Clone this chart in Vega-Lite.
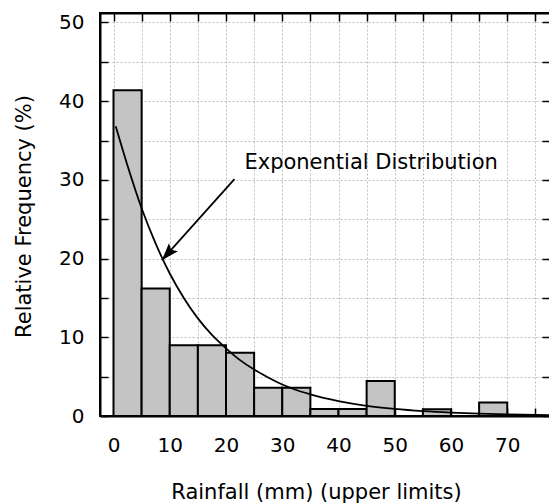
{
  "$schema": "https://vega.github.io/schema/vega-lite/v6.json",
  "width": 450,
  "height": 403,
  "autosize": "none",
  "padding": {"left": 100, "top": 13, "right": 0, "bottom": 87},
  "background": "white",
  "config": {
    "view": {"stroke": "black", "strokeWidth": 2},
    "font": "DejaVu Sans",
    "axis": {
      "labelFont": "DejaVu Sans",
      "titleFont": "DejaVu Sans",
      "labelFontSize": 20,
      "titleFontSize": 21,
      "titleFontWeight": "normal",
      "labelColor": "black",
      "titleColor": "black",
      "domainColor": "black",
      "domainWidth": 2,
      "tickColor": "black",
      "tickWidth": 1.5,
      "tickSize": -8,
      "gridColor": "#bdbdbd",
      "gridDash": [2, 2],
      "gridWidth": 1
    }
  },
  "datasets": {
    "bars": [
      {"lo": 0, "hi": 5, "freq": 41.4},
      {"lo": 5, "hi": 10, "freq": 16.2},
      {"lo": 10, "hi": 15, "freq": 9.0},
      {"lo": 15, "hi": 20, "freq": 9.0},
      {"lo": 20, "hi": 25, "freq": 8.05},
      {"lo": 25, "hi": 30, "freq": 3.6},
      {"lo": 30, "hi": 35, "freq": 3.6},
      {"lo": 35, "hi": 40, "freq": 0.9},
      {"lo": 40, "hi": 45, "freq": 0.9},
      {"lo": 45, "hi": 50, "freq": 4.45},
      {"lo": 55, "hi": 60, "freq": 0.85},
      {"lo": 65, "hi": 70, "freq": 1.7}
    ],
    "curve": [
      {"x": 0.4, "y": 36.8},
      {"x": 2.5, "y": 31.8},
      {"x": 5, "y": 26.4},
      {"x": 7.5, "y": 21.9},
      {"x": 10, "y": 18.1},
      {"x": 12.5, "y": 15.0},
      {"x": 15, "y": 12.4},
      {"x": 17.5, "y": 10.3},
      {"x": 20, "y": 8.6},
      {"x": 22.5, "y": 7.1},
      {"x": 25, "y": 5.9},
      {"x": 27.5, "y": 4.9},
      {"x": 30, "y": 4.0},
      {"x": 32.5, "y": 3.3},
      {"x": 35, "y": 2.75},
      {"x": 40, "y": 1.9},
      {"x": 45, "y": 1.3},
      {"x": 50, "y": 0.9},
      {"x": 55, "y": 0.62},
      {"x": 60, "y": 0.43},
      {"x": 65, "y": 0.3},
      {"x": 70, "y": 0.2},
      {"x": 77.6, "y": 0.12}
    ],
    "arrow": [
      {"x": 21.5, "y": 30.1, "x2": 8.6, "y2": 19.8}
    ],
    "label": [
      {"x": 45.8, "y": 31.4, "text": "Exponential Distribution"}
    ]
  },
  "resolve": {"axis": {"x": "independent", "y": "independent"}},
  "layer": [
    {
      "data": {"name": "bars"},
      "mark": {"type": "rect", "fill": "#c4c4c4", "stroke": "black", "strokeWidth": 2},
      "encoding": {
        "x": {
          "field": "lo", "type": "quantitative",
          "scale": {"domain": [-2.4, 77.6], "nice": false, "zero": false},
          "axis": {
            "orient": "bottom",
            "values": [0, 5, 10, 15, 20, 25, 30, 35, 40, 45, 50, 55, 60, 65, 70, 75],
            "labelExpr": "datum.value % 10 === 0 && datum.value <= 70 ? datum.label : ''",
            "grid": true,
            "labelPadding": 27,
            "title": "Rainfall (mm) (upper limits)",
            "titleX": 216,
            "titleY": 82,
            "titleBaseline": "alphabetic",
            "zindex": 0
          }
        },
        "x2": {"field": "hi"},
        "y": {
          "field": "freq", "type": "quantitative",
          "scale": {"domain": [0, 51.2], "nice": false, "zero": false},
          "axis": {
            "orient": "left",
            "values": [0, 5, 10, 15, 20, 25, 30, 35, 40, 45, 50],
            "labelExpr": "datum.value % 10 === 0 ? datum.label : ''",
            "grid": true,
            "labelPadding": 24,
            "title": "Relative Frequency (%)",
            "titleX": -76,
            "titleY": 203,
            "titleBaseline": "middle",
            "titleAngle": -90,
            "zindex": 0
          }
        },
        "y2": {"datum": 0}
      }
    },
    {
      "data": {"name": "curve"},
      "mark": {"type": "line", "color": "black", "strokeWidth": 1.8, "interpolate": "monotone", "clip": true},
      "encoding": {
        "x": {
          "field": "x", "type": "quantitative",
          "scale": {"domain": [-2.4, 77.6], "nice": false, "zero": false},
          "axis": {
            "orient": "top",
            "values": [0, 5, 10, 15, 20, 25, 30, 35, 40, 45, 50, 55, 60, 65, 70, 75],
            "labels": false,
            "grid": false,
            "title": null,
            "zindex": 1
          }
        },
        "y": {
          "field": "y", "type": "quantitative",
          "scale": {"domain": [0, 51.2], "nice": false, "zero": false},
          "axis": {
            "orient": "right",
            "values": [0, 5, 10, 15, 20, 25, 30, 35, 40, 45, 50],
            "labels": false,
            "grid": false,
            "title": null,
            "zindex": 1
          }
        }
      }
    },
    {
      "data": {"name": "arrow"},
      "mark": {"type": "rule", "color": "black", "strokeWidth": 1.8},
      "encoding": {
        "x": {"field": "x", "type": "quantitative", "axis": null},
        "y": {"field": "y", "type": "quantitative", "axis": null},
        "x2": {"field": "x2"},
        "y2": {"field": "y2"}
      }
    },
    {
      "data": {"name": "arrow"},
      "mark": {"type": "point", "shape": "M0,0L-0.7,2L0,1.6L0.7,2Z", "filled": true, "fill": "black", "stroke": null, "size": 300, "angle": 222, "opacity": 1},
      "encoding": {
        "x": {"field": "x2", "type": "quantitative", "axis": null},
        "y": {"field": "y2", "type": "quantitative", "axis": null}
      }
    },
    {
      "data": {"name": "label"},
      "mark": {"type": "text", "font": "DejaVu Sans", "fontSize": 21, "color": "black", "align": "center", "baseline": "alphabetic"},
      "encoding": {
        "x": {"field": "x", "type": "quantitative", "axis": null},
        "y": {"field": "y", "type": "quantitative", "axis": null},
        "text": {"field": "text"}
      }
    }
  ]
}
